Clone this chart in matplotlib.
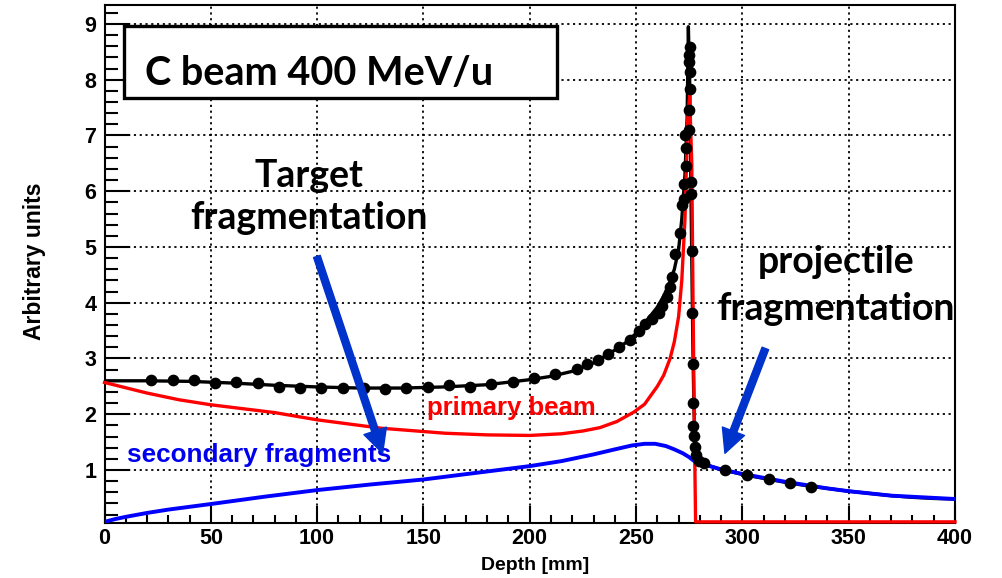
import matplotlib
matplotlib.use("Agg")
import matplotlib.pyplot as plt
from matplotlib.patches import Rectangle, FancyArrowPatch, ArrowStyle
from matplotlib.ticker import MultipleLocator

# ---------------- data ----------------
total_dots_x = [22, 32, 42, 52, 62, 72, 82, 92, 102, 112, 122, 132, 142, 152, 162,
                172, 182, 192, 202, 212, 222, 227, 232, 237, 242, 247, 251.5, 254.4,
                257.5, 260.6, 262.2, 264.6, 266.1, 266.9, 268.5, 270.8, 271.6, 272.4,
                272.7, 273.6, 273.6, 273.2, 274.7, 275.5, 275.5, 274.7, 275.5, 274.7,
                274.7,
                276.0, 275.8, 276.1, 276.5, 276.7, 276.9, 276.9, 277.2, 277.5, 278.0,
                279.4, 281.8, 292.0, 302.2, 312.4, 322.3, 332.3]
total_dots_y = [2.61, 2.61, 2.61, 2.56, 2.58, 2.56, 2.49, 2.47, 2.47, 2.47, 2.47, 2.45,
                2.47, 2.49, 2.52, 2.49, 2.55, 2.58, 2.65, 2.72, 2.81, 2.91, 2.97, 3.08,
                3.21, 3.33, 3.49, 3.61, 3.70, 3.82, 3.94, 4.10, 4.28, 4.46, 4.88, 5.25,
                5.76, 5.86, 6.13, 6.46, 6.77, 7.01, 7.10, 7.83, 8.13, 8.31, 8.59, 8.45,
                7.45,
                6.16, 5.95, 4.92, 3.82, 2.91, 2.21, 1.79, 1.61, 1.42, 1.27,
                1.17, 1.12, 1.00, 0.91, 0.84, 0.77, 0.70]

total_x = [0, 20, 40, 60, 80, 100, 120, 140, 160, 180, 200, 210, 220, 230, 240, 245,
           250, 255, 260, 263, 266, 268, 270, 271.5, 273, 274, 274.6, 275.2, 275.8,
           276.3, 276.8, 277.3, 278, 279, 280, 282, 285, 290, 300, 310, 320, 330,
           340, 350, 360, 370, 380, 390, 400]
total_y = [2.60, 2.60, 2.59, 2.56, 2.52, 2.49, 2.47, 2.47, 2.49, 2.53, 2.62, 2.68,
           2.77, 2.92, 3.15, 3.28, 3.45, 3.68, 3.92, 4.12, 4.38, 4.60, 4.95, 5.50,
           6.30, 7.30, 8.95, 8.00, 6.00, 4.50, 3.00, 2.00, 1.45, 1.24, 1.17, 1.11,
           1.07, 1.01, 0.92, 0.85, 0.78, 0.72, 0.67, 0.62, 0.58, 0.54, 0.51, 0.49, 0.48]

primary_x = [0, 20, 35, 50, 80, 100, 130, 160, 180, 200, 215, 225, 233, 241, 249,
             254, 260, 263, 266, 268, 270, 271.5, 273, 274.3, 275.2, 276.2, 276.8,
             277.4, 278, 400]
primary_y = [2.57, 2.38, 2.26, 2.17, 2.03, 1.90, 1.75, 1.66, 1.63, 1.62, 1.65, 1.70,
             1.76, 1.87, 2.04, 2.18, 2.50, 2.70, 3.00, 3.30, 3.75, 4.40, 5.50, 7.30,
             7.72, 6.50, 4.00, 1.80, 0.07, 0.07]

secondary_x = [0, 5, 10, 20, 30, 50, 75, 100, 125, 150, 175, 200, 215, 230, 240, 248,
               254, 259, 264, 268, 272, 275, 277, 279, 282, 290, 300, 310, 320, 330,
               340, 350, 360, 370, 380, 390, 400]
secondary_y = [0.07, 0.12, 0.16, 0.23, 0.29, 0.39, 0.52, 0.64, 0.74, 0.83, 0.95, 1.07,
               1.16, 1.28, 1.37, 1.44, 1.47, 1.47, 1.43, 1.37, 1.30, 1.23, 1.17, 1.13,
               1.10, 1.01, 0.93, 0.86, 0.79, 0.73, 0.67, 0.62, 0.58, 0.54, 0.52, 0.50,
               0.48]

x_ticks = [0, 50, 100, 150, 200, 250, 300, 350, 400]
y_ticks = [1, 2, 3, 4, 5, 6, 7, 8, 9]

# ---------------- figure ----------------
W, H = 1002, 578
fig = plt.figure(figsize=(W / 100, H / 100), dpi=100)
ax = fig.add_axes([104.5 / W, 1 - 522.7 / H, (955 - 104.5) / W, (522.7 - 5) / H])
ax.set_xlim(0, 400)
ax.set_ylim(0.055, 9.34)

arial = "Liberation Sans"
calib = "Lato"

ax.grid(True, which="major", color="black", linestyle=(0, (1.2, 2.0)), linewidth=1.3)
ax.set_axisbelow(True)

ax.plot(total_x, total_y, color="black", lw=2.4, zorder=2, solid_joinstyle="round")
ax.plot(primary_x, primary_y, color="#ff0000", lw=2.4, zorder=3, clip_on=False,
        solid_joinstyle="round")
ax.plot(secondary_x, secondary_y, color="#0000ff", lw=2.8, zorder=3.5)
ax.plot(total_dots_x, total_dots_y, "o", color="black", ms=7.4, zorder=5)

ax.set_xticks(x_ticks)
ax.set_yticks(y_ticks)
ax.xaxis.set_minor_locator(MultipleLocator(10))
ax.yaxis.set_minor_locator(MultipleLocator(0.2))
ax.tick_params(axis="x", which="major", direction="in", length=12, width=1.5,
               top=False, labelsize=15.5, pad=4)
ax.tick_params(axis="x", which="minor", direction="in", length=6, width=1.5, top=False)
ax.tick_params(axis="y", which="major", direction="in", length=18, width=1.5,
               right=False, labelsize=15.5, pad=6)
ax.tick_params(axis="y", which="minor", direction="in", length=9, width=1.5, right=False)
for lab in ax.get_xticklabels() + ax.get_yticklabels():
    lab.set_fontfamily(arial)
    lab.set_fontweight("bold")
for s in ax.spines.values():
    s.set_linewidth(1.5)

fig.text(535 / W, 1 - 565 / H, "Depth [mm]", ha="center", va="center",
         fontsize=14, fontweight="bold", family=arial)
fig.text(35 / W, 1 - 261 / H, "Arbitrary units", ha="center", va="center",
         rotation=90, fontsize=16.5, fontweight="bold", family=arial)

# title box
ax.add_patch(Rectangle((9.18, 7.67), 203.6, 1.29, facecolor="white",
                       edgecolor="black", lw=2.4, zorder=6))
ax.text(19.1, 7.90, "C beam 400 MeV/u", ha="left", va="baseline", fontsize=28.5,
        fontweight="bold", family=calib, zorder=7)

ax.text(96.2, 6.07, "Target", ha="center", va="baseline", fontsize=27,
        fontweight="bold", family=calib, zorder=7)
ax.text(96.2, 5.33, "fragmentation", ha="center", va="baseline", fontsize=27,
        fontweight="bold", family=calib, zorder=7)
ax.text(344.2, 4.53, "projectile", ha="center", va="baseline", fontsize=27,
        fontweight="bold", family=calib, zorder=7)
ax.text(344.2, 3.69, "fragmentation", ha="center", va="baseline", fontsize=27,
        fontweight="bold", family=calib, zorder=7)

ax.text(151.6, 1.99, "primary beam", ha="left", va="baseline", fontsize=18.5,
        fontweight="bold", family=arial, color="#ff0000", zorder=7)
ax.text(10.4, 1.15, "secondary fragments", ha="left", va="baseline", fontsize=18.8,
        fontweight="bold", family=arial, color="#0000ee", zorder=7)

style = ArrowStyle.Simple(head_length=17, head_width=17, tail_width=5)
for tail, tip in [((99.9, 4.83), (130.8, 1.30)), ((310.8, 3.18), (291.8, 1.30))]:
    ax.add_patch(FancyArrowPatch(tail, tip, arrowstyle=style, mutation_scale=1,
                                 color="#0033cc", shrinkA=0, shrinkB=0, zorder=8))

fig.savefig("out.png", dpi=100)
